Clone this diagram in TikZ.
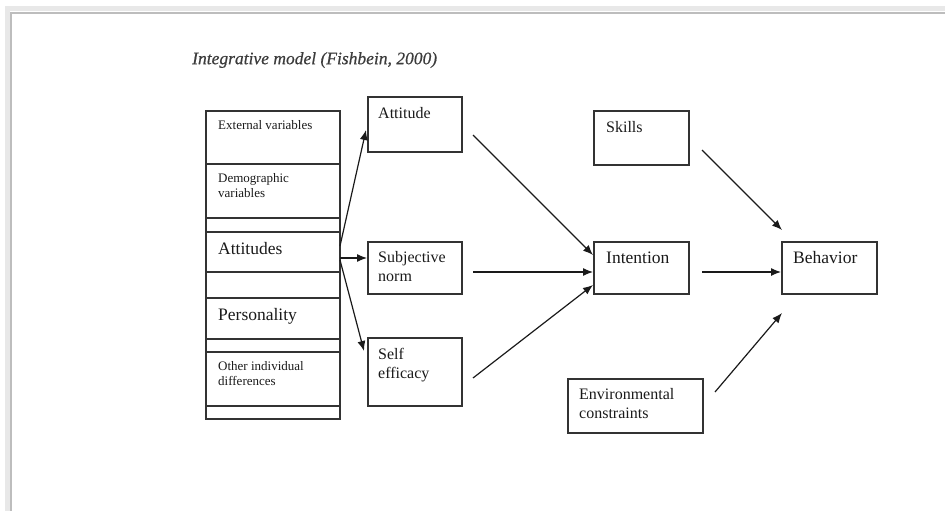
\documentclass[tikz,border=0pt]{standalone}
\usepackage{fontspec}
\setmainfont{Liberation Serif}
\newfontfamily\titlefont[ItalicFeatures={FakeBold=0.6}]{Liberation Serif}
\usetikzlibrary{arrows.meta,calc}
\definecolor{boxline}{HTML}{333333}
\definecolor{txt}{HTML}{1A1A1A}
\definecolor{frameline}{HTML}{BDBDBD}
\definecolor{frameshadow}{HTML}{E8E8E8}
\tikzset{
  cell/.style={draw=boxline, line width=1.5pt, rectangle, inner sep=0pt, anchor=north west, minimum width=134pt},
  box/.style={draw=boxline, line width=1.5pt, rectangle, inner sep=0pt, anchor=north west},
  lbl/.style={anchor=west, inner sep=0pt, text=txt, align=left},
  small/.style={font=\fontsize{13}{15.5}\selectfont},
  medium/.style={font=\fontsize{16}{19}\selectfont},
  large/.style={font=\fontsize{17.5}{20}\selectfont},
  arr/.style={draw=txt, line width=1.2pt, -{Latex[length=10pt,width=8pt]}},
}
\begin{document}
\begin{tikzpicture}[x=1pt,y=-1pt]
\useasboundingbox (0,0) rectangle (945,511);
% page frame
\draw[frameshadow, line width=5pt] (7,511) -- (7,9) -- (945,9);
\draw[frameline, line width=1.8pt] (11,511) -- (11,13) -- (945,13);
% title
\node[anchor=west, inner sep=0pt, text=txt!85, font=\fontsize{17.5}{20}\titlefont\itshape] (title) at (192,60) {Integrative model (Fishbein, 2000)};
% left stack
\node[cell, minimum height=53pt] (c1) at (205,110) {};
\node[cell, minimum height=54pt] (c2) at (205,163) {};
\node[cell, minimum height=14pt] (c3) at (205,217) {};
\node[cell, minimum height=40pt] (c4) at (205,231) {};
\node[cell, minimum height=26pt] (c5) at (205,271) {};
\node[cell, minimum height=41pt] (c6) at (205,297) {};
\node[cell, minimum height=13pt] (c7) at (205,338) {};
\node[cell, minimum height=54pt] (c8) at (205,351) {};
\node[cell, minimum height=13pt] (c9) at (205,405) {};
\node[lbl, small] (t1) at (218,125) {External variables};
\node[lbl, small, anchor=north west] (t2) at (218,173) {Demographic\\variables};
\node[lbl, large] (t4) at (218,249) {Attitudes};
\node[lbl, large] (t6) at (218,316) {Personality};
\node[lbl, small, anchor=north west] (t8) at (218,361) {Other individual\\differences};
% middle boxes
\node[box, minimum width=94pt, minimum height=55pt] (att) at (367,96) {};
\node[box, minimum width=94pt, minimum height=52pt] (subj) at (367,241) {};
\node[box, minimum width=94pt, minimum height=68pt] (self) at (367,337) {};
\node[lbl, medium] (tatt) at (378,113) {Attitude};
\node[lbl, medium, anchor=north west] (tsubj) at (378,251) {Subjective\\norm};
\node[lbl, medium, anchor=north west] (tself) at (378,348) {Self\\efficacy};
% right boxes
\node[box, minimum width=95pt, minimum height=54pt] (skills) at (593,110) {};
\node[box, minimum width=95pt, minimum height=52pt] (intent) at (593,241) {};
\node[box, minimum width=95pt, minimum height=52pt] (behav) at (781,241) {};
\node[box, minimum width=135pt, minimum height=54pt] (env) at (567,378) {};
\node[lbl, medium] (tskills) at (606,127) {Skills};
\node[lbl, large] (tint) at (606,258) {Intention};
\node[lbl, large] (tbeh) at (793,258) {Behavior};
\node[lbl, medium, anchor=north west] (tenv) at (579,388) {Environmental\\constraints};
% arrow end points
\coordinate (s1) at (340,246);
\coordinate (s2) at (340,258);
\coordinate (s3) at (340,260);
\coordinate (e1) at (366,130);
\coordinate (e3) at (364,351);
\coordinate (a1) at (473,135);
\coordinate (a2) at (473,272);
\coordinate (a3) at (473,378);
\coordinate (i1) at (593,255);
\coordinate (i3) at (593,285);
\coordinate (b0) at (702,272);
\coordinate (k0) at (702,150);
\coordinate (b1) at (782,230);
\coordinate (n0) at (715,392);
\coordinate (b3) at (782,313);
% arrows
\draw[arr] (s1) -- (e1);
\draw[arr] (s2) -- (s2 -| subj.west);
\draw[arr] (s3) -- (e3);
\draw[arr] (a1) -- (i1);
\draw[arr] (a2) -- (a2 -| intent.west);
\draw[arr] (a3) -- (i3);
\draw[arr] (b0) -- (b0 -| behav.west);
\draw[arr] (k0) -- (b1);
\draw[arr] (n0) -- (b3);
\end{tikzpicture}
\end{document}
